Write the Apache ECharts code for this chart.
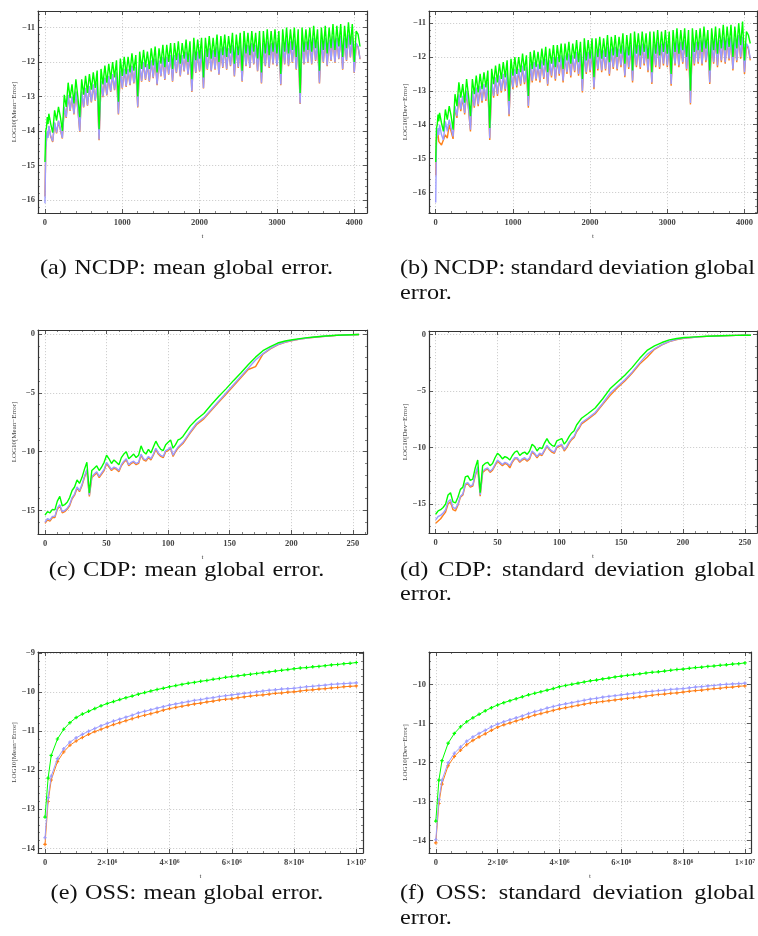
<!DOCTYPE html>
<html><head><meta charset="utf-8">
<script src="https://cdn.jsdelivr.net/npm/echarts@6/dist/echarts.min.js"></script>
<style>html,body{margin:0;padding:0;background:#fff}#c{width:758px;height:936px}</style>
</head><body><div id="c"></div><script>
// ---------- data ----------
const tN = [0,10,20,30,40,50,75,100,125,150,175,200,225,250,275,300,325,350,375,400,425,450,475,500,525,550,575,600,625,650,675,700,725,750,775,800,825,850,875,900,925,950,975,1000,1025,1050,1075,1100,1125,1150,1175,1200,1225,1250,1275,1300,1325,1350,1375,1400,1425,1450,1475,1500,1525,1550,1575,1600,1625,1650,1675,1700,1725,1750,1775,1800,1825,1850,1875,1900,1925,1950,1975,2000,2025,2050,2075,2100,2125,2150,2175,2200,2225,2250,2275,2300,2325,2350,2375,2400,2425,2450,2475,2500,2525,2550,2575,2600,2625,2650,2675,2700,2725,2750,2775,2800,2825,2850,2875,2900,2925,2950,2975,3000,3025,3050,3075,3100,3125,3150,3175,3200,3225,3250,3275,3300,3325,3350,3375,3400,3425,3450,3475,3500,3525,3550,3575,3600,3625,3650,3675,3700,3725,3750,3775,3800,3825,3850,3875,3900,3925,3950,3975,4000,4025,4050,4075];
const gA = [-14.9,-14.0,-13.9,-13.6,-13.8,
 -13.5,-13.8,-14.05,-13.4,-13.7,-13.3,-13.6,-14.0,
 -12.95,-13.3,-12.6,-13.05,-12.65,-13.2,-12.5,-13.0,
 -13.6,-12.5,-12.95,-12.4,-12.9,-12.35,-12.8,-12.3,
 -12.75,-12.25,-13.95,-12.2,-12.65,-12.1,-12.6,-12.05,
 -12.5,-12.0,-12.45,-11.95,-13.15,-11.9,-12.4,-11.85,
 -12.35,-11.85,-12.3,-11.75,-12.25,-11.8,-13.0,-11.7,
 -12.2,-11.65,-12.15,-11.7,-12.2,-11.6,-12.1,-11.55,
 -12.3,-11.6,-12.05,-11.5,-12.15,-11.5,-12.0,-11.45,
 -12.2,-11.45,-11.95,-11.4,-12.05,-11.45,-11.9,-11.35,
 -12.0,-11.4,-12.5,-11.3,-11.95,-11.35,-11.9,-11.3,
 -12.45,-11.3,-11.85,-11.25,-11.9,-11.3,-11.85,-11.2,
 -12.0,-11.25,-11.8,-11.2,-11.85,-11.25,-11.75,-11.15,
 -12.05,-11.2,-11.8,-11.15,-12.25,-11.1,-11.75,-11.15,
 -11.8,-11.1,-11.7,-11.15,-11.9,-11.1,-12.3,-11.1,
 -11.75,-11.05,-11.8,-11.1,-11.7,-11.05,-11.75,-11.1,
 -12.35,-11.05,-11.7,-11.0,-11.75,-11.05,-11.65,-11.0,
 -11.85,-11.05,-12.9,-11.0,-11.7,-11.05,-11.65,-11.0,
 -11.7,-10.95,-11.6,-11.05,-12.25,-11.0,-11.65,-10.95,
 -11.75,-11.0,-11.6,-10.9,-11.65,-10.95,-11.55,-10.9,
 -11.85,-10.95,-11.6,-10.85,-11.5,-10.9,-12.0,-11.1,
 -11.2,-11.55];
const bA = [-16.1,-14.6,-14.2,-14.0,-14.2,
 -13.85,-14.15,-14.3,-13.75,-14.05,-13.7,-13.95,-14.2,
 -13.3,-13.6,-12.95,-13.4,-13.0,-13.5,-12.85,-13.35,
 -14.0,-12.85,-13.3,-12.75,-13.25,-12.7,-13.15,-12.65,
 -13.1,-12.6,-14.25,-12.55,-13.0,-12.45,-12.95,-12.4,
 -12.85,-12.35,-12.8,-12.3,-13.5,-12.25,-12.75,-12.2,
 -12.7,-12.2,-12.65,-12.1,-12.6,-12.15,-13.3,-12.05,
 -12.55,-12.0,-12.5,-12.05,-12.55,-11.95,-12.45,-11.9,
 -12.65,-11.95,-12.4,-11.85,-12.5,-11.85,-12.35,-11.8,
 -12.55,-11.8,-12.3,-11.75,-12.4,-11.8,-12.25,-11.7,
 -12.35,-11.75,-12.85,-11.65,-12.3,-11.7,-12.25,-11.65,
 -12.75,-11.65,-12.2,-11.6,-12.25,-11.65,-12.2,-11.55,
 -12.35,-11.6,-12.15,-11.55,-12.2,-11.6,-12.1,-11.5,
 -12.4,-11.55,-12.15,-11.5,-12.55,-11.45,-12.1,-11.5,
 -12.15,-11.45,-12.05,-11.5,-12.25,-11.45,-12.6,-11.45,
 -12.1,-11.4,-12.15,-11.45,-12.05,-11.4,-12.1,-11.45,
 -12.65,-11.4,-12.05,-11.35,-12.1,-11.4,-12.0,-11.35,
 -12.2,-11.4,-13.2,-11.35,-12.05,-11.4,-12.0,-11.35,
 -12.05,-11.3,-11.95,-11.4,-12.6,-11.35,-12.0,-11.3,
 -12.1,-11.35,-11.95,-11.25,-12.0,-11.3,-11.9,-11.25,
 -12.2,-11.3,-11.95,-11.2,-11.85,-11.25,-12.3,-11.45,
 -11.55,-11.9];
const oA = [-15.9,-14.55,-14.25,-14.05,-14.15,
 -13.87,-14.17,-14.32,-13.77,-14.07,-13.72,-13.97,-14.22,
 -13.32,-13.62,-12.97,-13.42,-13.02,-13.52,-12.87,-13.37,
 -14.02,-12.87,-13.32,-12.77,-13.27,-12.72,-13.17,-12.67,
 -13.12,-12.62,-14.27,-12.57,-13.02,-12.47,-12.97,-12.42,
 -12.87,-12.37,-12.82,-12.32,-13.52,-12.27,-12.77,-12.22,
 -12.72,-12.22,-12.67,-12.12,-12.62,-12.17,-13.32,-12.07,
 -12.57,-12.02,-12.52,-12.07,-12.57,-11.97,-12.47,-11.92,
 -12.67,-11.97,-12.42,-11.87,-12.52,-11.87,-12.37,-11.82,
 -12.57,-11.82,-12.32,-11.77,-12.42,-11.82,-12.27,-11.72,
 -12.37,-11.77,-12.87,-11.67,-12.32,-11.72,-12.27,-11.67,
 -12.77,-11.67,-12.22,-11.62,-12.27,-11.67,-12.22,-11.57,
 -12.37,-11.62,-12.17,-11.57,-12.22,-11.62,-12.12,-11.52,
 -12.42,-11.57,-12.17,-11.52,-12.57,-11.47,-12.12,-11.52,
 -12.17,-11.47,-12.07,-11.52,-12.27,-11.47,-12.62,-11.47,
 -12.12,-11.42,-12.17,-11.47,-12.07,-11.42,-12.12,-11.47,
 -12.67,-11.42,-12.07,-11.37,-12.12,-11.42,-12.02,-11.37,
 -12.22,-11.42,-13.22,-11.37,-12.07,-11.42,-12.02,-11.37,
 -12.07,-11.32,-11.97,-11.42,-12.62,-11.37,-12.02,-11.32,
 -12.12,-11.37,-11.97,-11.27,-12.02,-11.32,-11.92,-11.27,
 -12.22,-11.32,-11.97,-11.22,-11.87,-11.27,-12.32,-11.47,
 -11.57,-11.92];
const gB = [-15.1,-14.1,-14.0,-13.7,-13.9,
 -13.65,-13.95,-14.2,-13.55,-13.85,-13.45,-13.75,-14.15,
 -13.1,-13.45,-12.75,-13.2,-12.8,-13.35,-12.65,-13.15,
 -13.75,-12.65,-13.1,-12.55,-13.05,-12.5,-12.95,-12.45,
 -12.9,-12.4,-14.1,-12.35,-12.8,-12.25,-12.75,-12.2,
 -12.65,-12.15,-12.6,-12.1,-13.3,-12.05,-12.55,-12.0,
 -12.5,-12.0,-12.45,-11.9,-12.4,-11.95,-13.15,-11.85,
 -12.35,-11.8,-12.3,-11.85,-12.35,-11.75,-12.25,-11.7,
 -12.45,-11.75,-12.2,-11.65,-12.3,-11.65,-12.15,-11.6,
 -12.35,-11.6,-12.1,-11.55,-12.2,-11.6,-12.05,-11.5,
 -12.15,-11.55,-12.65,-11.45,-12.1,-11.5,-12.05,-11.45,
 -12.6,-11.45,-12.0,-11.4,-12.05,-11.45,-12.0,-11.35,
 -12.15,-11.4,-11.95,-11.35,-12.0,-11.4,-11.9,-11.3,
 -12.2,-11.35,-11.95,-11.3,-12.4,-11.25,-11.9,-11.3,
 -11.95,-11.25,-11.85,-11.3,-12.05,-11.25,-12.45,-11.25,
 -11.9,-11.2,-11.95,-11.25,-11.85,-11.2,-11.9,-11.25,
 -12.5,-11.2,-11.85,-11.15,-11.9,-11.2,-11.8,-11.15,
 -12.0,-11.2,-13.0,-11.15,-11.85,-11.2,-11.8,-11.15,
 -11.85,-11.1,-11.75,-11.2,-12.4,-11.15,-11.8,-11.1,
 -11.9,-11.15,-11.75,-11.05,-11.8,-11.1,-11.7,-11.05,
 -12.0,-11.1,-11.75,-11.0,-11.65,-10.95,-12.1,-11.25,
 -11.35,-11.6];
const bB = [-16.3,-14.5,-14.3,-14.1,-14.3,
 -14.0,-14.3,-14.45,-13.9,-14.2,-13.85,-14.1,-14.35,
 -13.45,-13.75,-13.1,-13.55,-13.15,-13.65,-13.0,-13.5,
 -14.15,-13.0,-13.45,-12.9,-13.4,-12.85,-13.3,-12.8,
 -13.25,-12.75,-14.4,-12.7,-13.15,-12.6,-13.1,-12.55,
 -13.0,-12.5,-12.95,-12.45,-13.7,-12.4,-12.9,-12.35,
 -12.85,-12.35,-12.8,-12.25,-12.75,-12.3,-13.45,-12.2,
 -12.7,-12.15,-12.65,-12.2,-12.7,-12.1,-12.6,-12.05,
 -12.8,-12.1,-12.55,-12.0,-12.65,-12.0,-12.5,-11.95,
 -12.7,-11.95,-12.45,-11.9,-12.55,-11.95,-12.4,-11.85,
 -12.5,-11.9,-13.0,-11.8,-12.45,-11.85,-12.4,-11.8,
 -12.9,-11.8,-12.35,-11.75,-12.4,-11.8,-12.35,-11.7,
 -12.5,-11.75,-12.3,-11.7,-12.35,-11.75,-12.25,-11.65,
 -12.55,-11.7,-12.3,-11.65,-12.7,-11.6,-12.25,-11.65,
 -12.3,-11.6,-12.2,-11.65,-12.4,-11.6,-12.75,-11.6,
 -12.25,-11.55,-12.3,-11.6,-12.2,-11.55,-12.25,-11.6,
 -12.8,-11.55,-12.2,-11.5,-12.25,-11.55,-12.15,-11.5,
 -12.35,-11.55,-13.36,-11.5,-12.2,-11.55,-12.15,-11.5,
 -12.2,-11.45,-12.1,-11.55,-12.75,-11.5,-12.15,-11.45,
 -12.25,-11.5,-12.1,-11.4,-12.15,-11.45,-12.05,-11.4,
 -12.35,-11.45,-12.1,-11.35,-12.0,-11.4,-12.45,-11.6,
 -11.7,-12.05];
const oB = [-15.5,-14.4,-14.35,-14.3,-14.5,
 -14.55,-14.6,-14.62,-14.3,-14.4,-14.0,-14.2,-14.42,
 -13.5,-13.8,-13.15,-13.6,-13.2,-13.7,-13.05,-13.55,
 -14.2,-13.05,-13.5,-12.95,-13.45,-12.9,-13.35,-12.85,
 -13.3,-12.8,-14.45,-12.75,-13.2,-12.65,-13.15,-12.6,
 -13.05,-12.55,-13.0,-12.5,-13.75,-12.45,-12.95,-12.4,
 -12.9,-12.4,-12.85,-12.3,-12.8,-12.35,-13.5,-12.25,
 -12.75,-12.2,-12.7,-12.25,-12.75,-12.15,-12.65,-12.1,
 -12.85,-12.15,-12.6,-12.05,-12.7,-12.05,-12.55,-12.0,
 -12.75,-12.0,-12.5,-11.95,-12.6,-12.0,-12.45,-11.9,
 -12.55,-11.95,-13.05,-11.85,-12.5,-11.9,-12.45,-11.85,
 -12.95,-11.85,-12.4,-11.8,-12.45,-11.85,-12.4,-11.75,
 -12.55,-11.8,-12.35,-11.75,-12.4,-11.8,-12.3,-11.7,
 -12.6,-11.75,-12.35,-11.7,-12.75,-11.65,-12.3,-11.7,
 -12.35,-11.65,-12.25,-11.7,-12.45,-11.65,-12.8,-11.65,
 -12.3,-11.6,-12.35,-11.65,-12.25,-11.6,-12.3,-11.65,
 -12.85,-11.6,-12.25,-11.55,-12.3,-11.6,-12.2,-11.55,
 -12.4,-11.6,-13.4,-11.55,-12.25,-11.6,-12.2,-11.55,
 -12.25,-11.5,-12.15,-11.6,-12.8,-11.55,-12.2,-11.5,
 -12.3,-11.55,-12.15,-11.45,-12.2,-11.5,-12.1,-11.45,
 -12.4,-11.5,-12.15,-11.4,-12.05,-11.45,-12.5,-11.65,
 -11.75,-12.1];

const tC = [0,2,4,6,8,10,12,14,16,18,20,22,24,26,28,30,32,34,36,38,40,42,44,46,48,50,52,54,56,58,
 60,62,64,66,68,70,72,74,76,78,80,82,84,86,88,90,92,94,96,98,100,102,104,106,108,110,112,114,116,118,
 123,129,135,141,147,153,159,165,171,177,183,189,195,201,207,213,219,225,231,237,243,249,255];
const gC = [-15.4,-15.1,-15.2,-14.9,-14.95,-14.2,-13.8,-14.6,-14.5,-14.3,
 -13.9,-13.3,-13.0,-12.4,-12.7,-12.2,-11.5,-10.9,-13.5,-11.6,
 -11.4,-11.2,-11.6,-11.3,-10.9,-10.3,-10.6,-11.0,-10.7,-10.9,
 -11.1,-10.5,-10.2,-10.0,-10.6,-10.4,-10.2,-10.5,-10.3,-9.5,
 -10.0,-10.2,-9.8,-10.1,-9.6,-9.1,-9.5,-9.8,-9.9,-9.4,
 -9.2,-9.0,-9.7,-9.4,-9.0,-8.9,-8.7,-8.4,-8.1,-7.8,
 -7.25,-6.75,-6.0,-5.3,-4.65,-3.95,-3.3,-2.6,-1.95,-1.4,
 -1.05,-0.75,-0.58,-0.47,-0.37,-0.29,-0.23,-0.17,-0.13,-0.09,
 -0.06,-0.04,-0.02];
const bC = [-16.0,-15.7,-15.8,-15.5,-15.5,-14.8,-14.5,-15.1,-15.0,-14.8,
 -14.5,-13.9,-13.6,-13.0,-13.3,-12.8,-12.1,-11.5,-13.7,-12.1,
 -11.9,-11.7,-12.1,-11.8,-11.5,-10.9,-11.2,-11.5,-11.3,-11.4,
 -11.6,-11.1,-10.8,-10.6,-11.1,-10.9,-10.8,-11.0,-10.9,-10.2,
 -10.6,-10.7,-10.4,-10.6,-10.2,-9.7,-10.1,-10.3,-10.4,-9.9,
 -9.8,-9.6,-10.3,-9.9,-9.6,-9.4,-9.2,-8.9,-8.6,-8.3,
 -7.6,-7.1,-6.4,-5.7,-5.0,-4.3,-3.6,-2.9,-2.2,-1.65,
 -1.2,-0.88,-0.66,-0.52,-0.41,-0.32,-0.25,-0.19,-0.14,-0.10,
 -0.07,-0.04,-0.02];
const oC = [-16.1,-15.8,-15.9,-15.6,-15.6,-14.9,-14.6,-15.2,-15.1,-14.9,
 -14.6,-14.0,-13.7,-13.1,-13.4,-12.9,-12.2,-11.6,-13.8,-12.2,
 -12.0,-11.8,-12.2,-11.9,-11.6,-11.0,-11.3,-11.6,-11.4,-11.5,
 -11.7,-11.2,-10.9,-10.7,-11.2,-11.0,-10.9,-11.1,-11.0,-10.3,
 -10.7,-10.8,-10.5,-10.7,-10.3,-9.8,-10.2,-10.4,-10.5,-10.0,
 -9.9,-9.7,-10.4,-10.0,-9.7,-9.5,-9.3,-9.0,-8.7,-8.4,
 -7.7,-7.2,-6.5,-5.8,-5.1,-4.4,-3.7,-3.0,-2.75,-1.7,
 -1.25,-0.9,-0.68,-0.53,-0.42,-0.33,-0.26,-0.2,-0.15,-0.1,
 -0.07,-0.04,-0.02];
const gD = [-15.9,-15.6,-15.5,-15.3,-15.0,-14.2,-14.0,-14.8,-14.9,-14.4,
 -13.7,-13.5,-12.6,-12.5,-12.9,-12.8,-11.8,-11.1,-14.0,-11.6,
 -11.4,-11.3,-11.6,-11.4,-10.9,-10.5,-10.7,-11.0,-10.8,-10.9,
 -11.1,-10.7,-10.4,-10.3,-10.7,-10.5,-10.4,-10.6,-10.3,-9.7,
 -9.9,-10.3,-10.0,-10.1,-9.6,-9.2,-9.6,-9.8,-9.9,-9.4,
 -9.3,-9.2,-9.7,-9.4,-9.0,-8.7,-8.5,-8.0,-7.7,-7.4,
 -7.0,-6.5,-5.7,-4.8,-4.2,-3.6,-2.9,-2.1,-1.4,-1.0,
 -0.7,-0.47,-0.34,-0.26,-0.22,-0.18,-0.15,-0.12,-0.1,-0.08,
 -0.07,-0.06,-0.05];
const bD = [-16.4,-16.1,-16.0,-15.8,-15.5,-14.8,-14.6,-15.3,-15.4,-15.0,
 -14.3,-14.1,-13.2,-13.1,-13.4,-13.3,-12.4,-11.7,-14.2,-12.1,
 -11.9,-11.8,-12.1,-11.9,-11.5,-11.1,-11.3,-11.5,-11.3,-11.4,
 -11.6,-11.2,-10.9,-10.9,-11.2,-11.0,-10.9,-11.1,-10.9,-10.3,
 -10.5,-10.8,-10.5,-10.6,-10.2,-9.8,-10.1,-10.3,-10.4,-9.9,
 -9.8,-9.7,-10.2,-9.9,-9.5,-9.2,-9.0,-8.5,-8.2,-7.8,
 -7.4,-6.9,-6.1,-5.2,-4.6,-4.0,-3.3,-2.5,-1.75,-1.25,
 -0.88,-0.6,-0.42,-0.31,-0.25,-0.2,-0.16,-0.13,-0.11,-0.09,
 -0.07,-0.06,-0.05];
const oD = [-16.7,-16.5,-16.3,-16.0,-15.7,-15.0,-14.8,-15.5,-15.6,-15.1,
 -14.4,-14.2,-13.3,-13.2,-13.5,-13.4,-12.5,-11.8,-14.3,-12.2,
 -12.0,-11.9,-12.2,-12.0,-11.6,-11.2,-11.4,-11.6,-11.4,-11.5,
 -11.8,-11.3,-11.0,-11.0,-11.3,-11.1,-11.0,-11.2,-11.0,-10.4,
 -10.6,-10.9,-10.6,-10.7,-10.3,-9.9,-10.2,-10.4,-10.5,-10.0,
 -9.9,-9.8,-10.3,-10.0,-9.6,-9.3,-9.1,-8.6,-8.3,-7.9,
 -7.5,-7.0,-6.2,-5.4,-4.7,-4.1,-3.4,-2.6,-2.0,-1.3,
 -0.9,-0.62,-0.43,-0.32,-0.25,-0.2,-0.16,-0.13,-0.11,-0.09,
 -0.07,-0.06,-0.05];

// OSS: t in millions
const tO = [0,0.1,0.2,0.4,0.6,0.8,1,1.2,1.4,1.6,1.8,2,2.2,2.4,2.6,2.8,3,3.2,3.4,3.6,3.8,4,4.2,4.4,4.6,4.8,5,5.2,5.4,5.6,5.8,6,6.2,6.4,6.6,6.8,7,7.2,7.4,7.6,7.8,8,8.2,8.4,8.6,8.8,9,9.2,9.4,9.6,9.8,10];
const gE = [-13.2,-12.2,-11.62,-11.2,-10.95,-10.78,-10.65,-10.56,-10.49,-10.42,-10.35,-10.29,
 -10.24,-10.19,-10.14,-10.10,-10.05,-10.01,-9.97,-9.93,-9.90,-9.86,
 -9.83,-9.80,-9.77,-9.75,-9.72,-9.70,-9.67,-9.65,-9.62,-9.60,
 -9.58,-9.56,-9.54,-9.52,-9.50,-9.48,-9.46,-9.44,-9.42,-9.40,
 -9.38,-9.37,-9.35,-9.34,-9.32,-9.30,-9.29,-9.27,-9.26,-9.24];
const bE = [-13.73,-12.7,-12.15,-11.7,-11.45,-11.28,-11.17,-11.08,-11.0,-10.93,-10.86,-10.80,
 -10.74,-10.69,-10.64,-10.59,-10.53,-10.49,-10.45,-10.41,-10.37,-10.33,
 -10.30,-10.27,-10.24,-10.21,-10.19,-10.16,-10.14,-10.11,-10.09,-10.07,
 -10.05,-10.03,-10.01,-9.99,-9.97,-9.95,-9.94,-9.92,-9.91,-9.90,
 -9.88,-9.86,-9.85,-9.83,-9.82,-9.80,-9.79,-9.78,-9.77,-9.76];
const oE = [-13.9,-12.8,-12.25,-11.78,-11.53,-11.36,-11.25,-11.16,-11.08,-11.01,-10.95,-10.89,
 -10.83,-10.78,-10.73,-10.68,-10.63,-10.59,-10.55,-10.51,-10.46,-10.42,
 -10.39,-10.36,-10.33,-10.30,-10.28,-10.25,-10.23,-10.20,-10.18,-10.17,
 -10.14,-10.12,-10.10,-10.08,-10.07,-10.05,-10.03,-10.02,-10.00,-9.99,
 -9.97,-9.95,-9.94,-9.92,-9.91,-9.89,-9.88,-9.86,-9.85,-9.84];
const gF = [-13.5,-12.45,-11.95,-11.5,-11.25,-11.08,-10.95,-10.85,-10.76,-10.67,-10.59,-10.52,
 -10.46,-10.41,-10.36,-10.31,-10.26,-10.22,-10.18,-10.14,-10.10,-10.05,
 -10.02,-9.99,-9.96,-9.93,-9.90,-9.88,-9.85,-9.83,-9.80,-9.78,
 -9.76,-9.74,-9.72,-9.70,-9.68,-9.67,-9.65,-9.63,-9.61,-9.60,
 -9.58,-9.56,-9.55,-9.53,-9.52,-9.50,-9.49,-9.47,-9.46,-9.44];
const bF = [-13.98,-12.95,-12.45,-12.0,-11.76,-11.6,-11.45,-11.34,-11.25,-11.17,-11.08,-11.01,
 -10.95,-10.90,-10.85,-10.80,-10.74,-10.69,-10.65,-10.60,-10.56,-10.52,
 -10.49,-10.46,-10.43,-10.40,-10.37,-10.35,-10.32,-10.30,-10.28,-10.26,
 -10.24,-10.22,-10.20,-10.18,-10.17,-10.15,-10.14,-10.12,-10.11,-10.10,
 -10.08,-10.06,-10.05,-10.03,-10.02,-10.00,-9.99,-9.98,-9.97,-9.96];
const oF = [-14.06,-13.05,-12.55,-12.08,-11.84,-11.68,-11.54,-11.43,-11.34,-11.26,-11.17,-11.09,
 -11.03,-10.98,-10.93,-10.88,-10.83,-10.78,-10.74,-10.70,-10.66,-10.62,
 -10.59,-10.56,-10.53,-10.50,-10.47,-10.45,-10.43,-10.41,-10.39,-10.37,
 -10.35,-10.33,-10.31,-10.29,-10.27,-10.25,-10.24,-10.22,-10.21,-10.19,
 -10.17,-10.15,-10.14,-10.12,-10.10,-10.09,-10.07,-10.06,-10.04,-10.03];

const oTickVals = [0,2,4,6,8,10];
const oTickLabels = ['0','2\u00d710\u2076','4\u00d710\u2076','6\u00d710\u2076','8\u00d710\u2076','1\u00d710\u2077'];
const seriesColors = ['#ff7f17','#9b9bff','#00ff00'];
const captions = [
  {text:'(a) NCDP: mean global error.', x0:40, x1:333, y:268},
  {text:'(b) NCDP: standard deviation global', x0:400, x1:755, y:268, justify:true},
  {text:'error.', x0:400, y:293},
  {text:'(c) CDP: mean global error.', x0:48, x1:325, y:570},
  {text:'(d) CDP: standard deviation global', x0:400, x1:755, y:570, justify:true},
  {text:'error.', x0:400, y:594},
  {text:'(e) OSS: mean global error.', x0:51, x1:323, y:893},
  {text:'(f) OSS: standard deviation global', x0:400, x1:755, y:893, justify:true},
  {text:'error.', x0:400, y:918}
];

// ---------- build ----------
function yFmt(v){ if (Math.abs(v) < 1e-9) return '0'; return v < 0 ? '\u2212' + (-v) : String(v); }
function xFmtO(v){ const i = oTickVals.indexOf(Math.round(v*1000)/1000); return i >= 0 ? oTickLabels[i] : ''; }
function xFmtN(v){ return String(v); }

const panels = [
  {grid:{left:38,top:11,width:329,height:202}, x:[-90,4165], y:[-16.38,-10.52], xs:4, ys:6, xm:5, ym:5, t:tN, s:[oA,bA,gA], yName:'LOG10[Mean\u2212Error]', yGap:19, lw:1.4, fx:xFmtN},
  {grid:{left:429,top:11,width:328,height:202}, x:[-87,4162], y:[-16.61,-10.64], xs:4, ys:6, xm:5, ym:5, t:tN, s:[oB,bB,gB], yName:'LOG10[Dev\u2212Error]', yGap:19, lw:1.4, fx:xFmtN},
  {grid:{left:38,top:330,width:329,height:204}, x:[-5.7,261.5], y:[-17.0,0.36], xs:5, ys:3, xm:5, ym:5, t:tC, s:[oC,bC,gC], yName:'LOG10[Mean\u2212Error]', yGap:19, lw:1.4, fx:xFmtN},
  {grid:{left:429,top:331,width:328,height:202}, x:[-5.4,259.9], y:[-17.56,0.32], xs:5, ys:3, xm:5, ym:5, t:tC, s:[oD,bD,gD], yName:'LOG10[Dev\u2212Error]', yGap:20, lw:1.4, fx:xFmtN},
  {grid:{left:38,top:652,width:325,height:201}, x:[-0.225,10.215], y:[-14.12,-8.97], xs:5, ys:5, xm:4, ym:5, t:tO, s:[oE,bE,gE], yName:'LOG10[Mean\u2212Error]', yGap:19, lw:1, fx:xFmtO, sym:true},
  {grid:{left:429,top:652,width:324,height:201}, x:[-0.22,10.19], y:[-14.32,-9.16], xs:5, ys:5, xm:4, ym:5, t:tO, s:[oF,bF,gF], yName:'LOG10[Dev\u2212Error]', yGap:20, lw:1, fx:xFmtO, sym:true}
];

const FRAME = '#333';
const labStyle = {fontFamily:'Liberation Serif', fontSize:8.5, fontWeight:'bold', color:'#444'};
const nameStyle = {fontFamily:'Liberation Serif', fontSize:7, color:'#444'};
const grid=[], xAxis=[], yAxis=[], series=[];
function baseAxis(i, ext, split, minor){
  return {type:'value', gridIndex:i, min:ext[0], max:ext[1], splitNumber:split,
    axisLine:{show:true, onZero:false, lineStyle:{color:FRAME, width:1.2}},
    axisTick:{show:true, inside:true, length:4, lineStyle:{color:FRAME, width:0.8}},
    minorTick:{show:true, splitNumber:minor, length:2, lineStyle:{color:FRAME, width:0.6}},
    splitLine:{show:false}, minorSplitLine:{show:false}, axisPointer:{show:false}};
}
const plusPath = 'path://M2,0H4V2H6V4H4V6H2V4H0V2H2Z';
panels.forEach((p,i)=>{
  grid.push(Object.assign({}, p.grid));
  xAxis.push(Object.assign(baseAxis(i,p.x,p.xs,p.xm), {position:'bottom',
    splitLine:{show:true, lineStyle:{color:'#c4c4c4', type:[1.2,1.8], width:0.8}},
    axisLabel:Object.assign({}, labStyle, {margin:5, showMinLabel:false, showMaxLabel:false, formatter:p.fx}),
    name:'t', nameLocation:'middle', nameGap:20, nameTextStyle:nameStyle}));
  xAxis.push(Object.assign(baseAxis(i,p.x,p.xs,p.xm), {position:'top', axisLabel:{show:false}}));
  yAxis.push(Object.assign(baseAxis(i,p.y,p.ys,p.ym), {position:'left',
    splitLine:{show:true, lineStyle:{color:'#c4c4c4', type:[1.2,1.8], width:0.8}},
    axisLabel:Object.assign({}, labStyle, {margin:3, showMinLabel:false, showMaxLabel:false, formatter:yFmt}),
    name:p.yName, nameLocation:'middle', nameGap:p.yGap, nameRotate:90, nameTextStyle:nameStyle}));
  yAxis.push(Object.assign(baseAxis(i,p.y,p.ys,p.ym), {position:'right', axisLabel:{show:false}}));
  p.s.forEach((arr,k)=>{
    series.push({type:'line', xAxisIndex:2*i, yAxisIndex:2*i,
      data:p.t.map((t,j)=>[t, arr[j]]),
      showSymbol:!!p.sym, symbol:plusPath, symbolSize:3.5,
      itemStyle:{color:seriesColors[k]},
      lineStyle:{color:seriesColors[k], width:p.lw},
      clip:true, silent:true, animation:false, z:2+k});
  });
});

// captions (Computer-Modern-like metrics emulated with a stretched serif)
const CAP_SIZE = 21, CAP_FAMILY = 'Liberation Serif';
const capFont = CAP_SIZE + 'px "' + CAP_FAMILY + '"';
const SPACE = 7.4;
const mctx = document.createElement('canvas').getContext('2d');
mctx.font = capFont;
const tw = s => mctx.measureText(s).width;
const wordsA = captions[0].text.split(' ');
const scale = (captions[0].x1 - captions[0].x0 - SPACE*(wordsA.length-1)) / wordsA.reduce((a,w)=>a+tw(w),0);
const graphic = [];
function addText(str, x, y){
  graphic.push({type:'text', x:x, y:y, scaleX:scale, silent:true,
    style:{text:str, font:capFont, fill:'#111', align:'left', verticalAlign:'middle'}});
}
captions.forEach(c=>{
  const words = c.text.split(' ');
  const widths = words.map(w=>tw(w)*scale);
  const total = widths.reduce((a,b)=>a+b,0);
  let x, gap = SPACE;
  if (c.justify){
    gap = (c.x1 - c.x0 - total) / (words.length - 1); x = c.x0;
  } else if (c.x1 !== undefined) {
    x = (c.x0 + c.x1)/2 - (total + SPACE*(words.length-1))/2;
  } else { x = c.x0; }
  words.forEach((w,k)=>{ addText(w, x, c.y); x += widths[k] + gap; });
});

const chart = echarts.init(document.getElementById('c'), null, {renderer:'canvas'});
chart.setOption({animation:false, backgroundColor:'#fff', grid, xAxis, yAxis, series, graphic});
</script></body></html>
